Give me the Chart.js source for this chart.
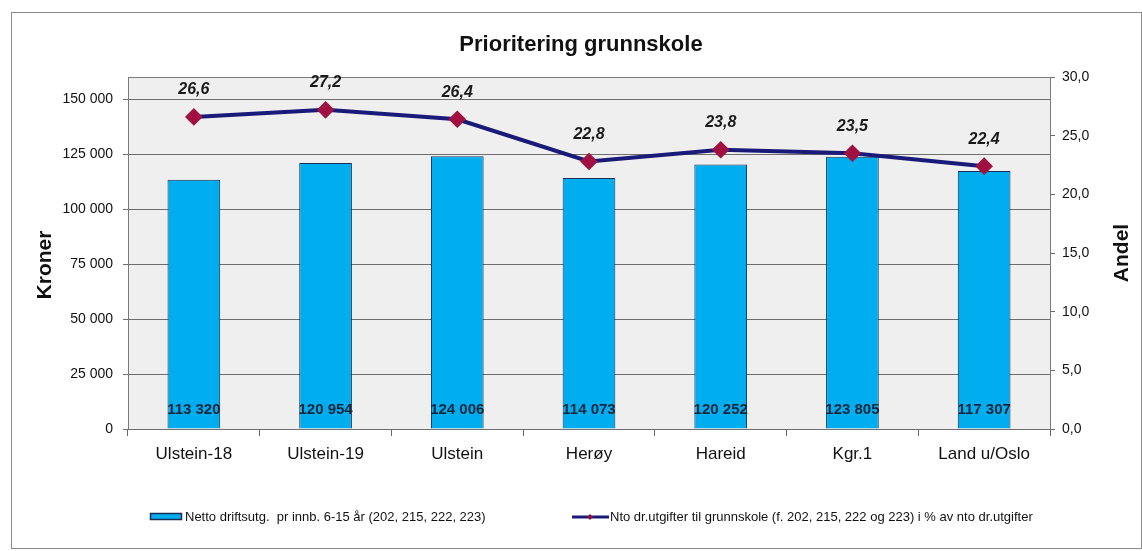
<!DOCTYPE html>
<html lang="no">
<head>
    <meta charset="UTF-8">
    <script src="https://cdn.jsdelivr.net/npm/chart.js"></script>
    <title>Prioritering grunnskole</title>
    <style>
        html, body { margin: 0; padding: 0; background: #fff; }
    </style>
</head>
<body>
<canvas id="grunnskoleChart" width="1142" height="551"></canvas>
<script>
    // Data
    const categories = ['Ulstein-18', 'Ulstein-19', 'Ulstein', 'Herøy', 'Hareid', 'Kgr.1', 'Land u/Oslo'];
    const kronerValues = [113320, 120954, 124006, 114073, 120252, 123805, 117307];
    const andelValues = [26.6, 27.2, 26.4, 22.8, 23.8, 23.5, 22.4];
    const kronerTicks = [0, 25000, 50000, 75000, 100000, 125000, 150000];
    const andelTicks = [0, 5, 10, 15, 20, 25, 30];
    const barLabel = 'Netto driftsutg.  pr innb. 6-15 år (202, 215, 222, 223)';
    const lineLabel = 'Nto dr.utgifter til grunnskole (f. 202, 215, 222 og 223) i % av nto dr.utgifter';

    const FONT = "'Liberation Sans', Arial, sans-serif";

    // format 113320 -> "113 320"
    function formatKroner(v) {
        return String(v).replace(/\B(?=(\d{3})+(?!\d))/g, ' ');
    }
    // format 26.6 -> "26,6"
    function formatAndel(v) {
        return v.toFixed(1).replace('.', ',');
    }

    // background, outer frame and plot area box
    const framePlugin = {
        id: 'frame',
        beforeDraw(chart) {
            const c = chart.ctx;
            const a = chart.chartArea;
            c.save();
            c.fillStyle = '#ffffff';
            c.fillRect(0, 0, chart.width, chart.height);
            c.strokeStyle = '#8a8a8a';
            c.lineWidth = 1;
            c.strokeRect(11.5, 12.5, chart.width - 12, chart.height - 15);
            c.fillStyle = '#efefef';
            c.fillRect(a.left, a.top, a.right - a.left, a.bottom - a.top);
            c.strokeStyle = '#7a7a7a';
            c.strokeRect(a.left + 0.5, a.top + 0.5, a.right - a.left, a.bottom - a.top);
            c.restore();
        }
    };

    // value labels, axis titles and legend
    const labelPlugin = {
        id: 'labels',
        afterDraw(chart) {
            const c = chart.ctx;
            const a = chart.chartArea;
            c.save();

            // bar values near the base of each bar
            const barMeta = chart.getDatasetMeta(1);
            const base = chart.scales.y.getPixelForValue(0);
            c.font = 'bold 15px ' + FONT;
            c.fillStyle = '#16263a';
            c.textAlign = 'center';
            c.textBaseline = 'middle';
            barMeta.data.forEach((el, i) => {
                c.fillText(formatKroner(kronerValues[i]), el.x, base - 19);
            });

            // line values above points
            const lineMeta = chart.getDatasetMeta(0);
            c.font = 'italic bold 16px ' + FONT;
            c.fillStyle = '#1a1a1a';
            lineMeta.data.forEach((el, i) => {
                c.fillText(formatAndel(andelValues[i]), el.x, el.y - 27);
            });

            // axis titles
            c.font = 'bold 21px ' + FONT;
            c.fillStyle = '#111';
            c.save();
            c.translate(45, 265);
            c.rotate(-Math.PI / 2);
            c.fillText('Kroner', 0, 0);
            c.restore();
            c.save();
            c.translate(1122, (a.top + a.bottom) / 2);
            c.rotate(-Math.PI / 2);
            c.fillText('Andel', 0, 0);
            c.restore();

            // legend
            const ly = 517;
            c.font = '13px ' + FONT;
            c.textAlign = 'left';
            c.fillStyle = '#00aeef';
            c.fillRect(150, ly - 4, 32, 7);
            c.strokeStyle = '#1a2e55';
            c.lineWidth = 1.5;
            c.strokeRect(150.5, ly - 3.5, 31, 6);
            c.fillStyle = '#111';
            c.fillText(barLabel, 185, ly);

            c.strokeStyle = '#1a1a78';
            c.lineWidth = 3;
            c.beginPath();
            c.moveTo(572, ly);
            c.lineTo(609, ly);
            c.stroke();
            c.fillStyle = '#8c1040';
            c.beginPath();
            c.moveTo(590, ly - 3);
            c.lineTo(593, ly);
            c.lineTo(590, ly + 3);
            c.lineTo(587, ly);
            c.closePath();
            c.fill();
            c.fillStyle = '#111';
            c.fillText(lineLabel, 610, ly);

            c.restore();
        }
    };

    const ctx = document.getElementById('grunnskoleChart').getContext('2d');

    const grunnskoleChart = new Chart(ctx, {
        data: {
            labels: categories,
            datasets: [{
                type: 'line',
                label: lineLabel,
                data: andelValues,
                yAxisID: 'y1',
                order: 0,
                borderColor: '#1a1a78',
                borderWidth: 4,
                pointStyle: 'rectRot',
                pointRadius: 6,
                pointBackgroundColor: '#a01040',
                pointBorderColor: '#a01040',
                tension: 0
            }, {
                type: 'bar',
                label: barLabel,
                data: kronerValues,
                yAxisID: 'y',
                order: 1,
                backgroundColor: '#00aeef',
                borderColor: '#1a2e55',
                borderWidth: 1,
                barPercentage: 0.4,
                categoryPercentage: 1
            }]
        },
        options: {
            responsive: false,
            animation: false,
            layout: {
                padding: { top: 12, left: 20, right: 0, bottom: 72 }
            },
            plugins: {
                legend: { display: false },
                tooltip: { enabled: false },
                title: {
                    display: true,
                    text: 'Prioritering grunnskole',
                    color: '#111',
                    font: { family: FONT, size: 22, weight: 'bold' },
                    lineHeight: 1.2,
                    padding: { top: 20, bottom: 18.6 }
                }
            },
            scales: {
                x: {
                    grid: {
                        offset: true,
                        drawOnChartArea: false,
                        tickLength: 7,
                        color: '#6a6a6a'
                    },
                    border: { display: false },
                    ticks: {
                        color: '#111',
                        font: { family: FONT, size: 17 },
                        padding: 8,
                        maxRotation: 0
                    },
                    afterFit(scale) { scale.height = 50; }
                },
                y: {
                    position: 'left',
                    min: 0,
                    max: 160000,
                    ticks: {
                        color: '#111',
                        font: { family: FONT, size: 14 },
                        padding: 10,
                        callback: v => formatKroner(v)
                    },
                    afterBuildTicks(scale) {
                        scale.ticks = kronerTicks.map(v => ({ value: v }));
                    },
                    grid: { color: '#6e6e6e', tickLength: 5 },
                    border: { display: false },
                    afterFit(scale) { scale.width = 108; }
                },
                y1: {
                    position: 'right',
                    min: 0,
                    max: 30,
                    ticks: {
                        color: '#111',
                        font: { family: FONT, size: 14 },
                        padding: 7,
                        callback: v => formatAndel(v)
                    },
                    afterBuildTicks(scale) {
                        scale.ticks = andelTicks.map(v => ({ value: v }));
                    },
                    grid: { drawOnChartArea: false, color: '#6e6e6e', tickLength: 5 },
                    border: { display: false },
                    afterFit(scale) { scale.width = 92; }
                }
            }
        },
        plugins: [framePlugin, labelPlugin]
    });
</script>
</body>
</html>
